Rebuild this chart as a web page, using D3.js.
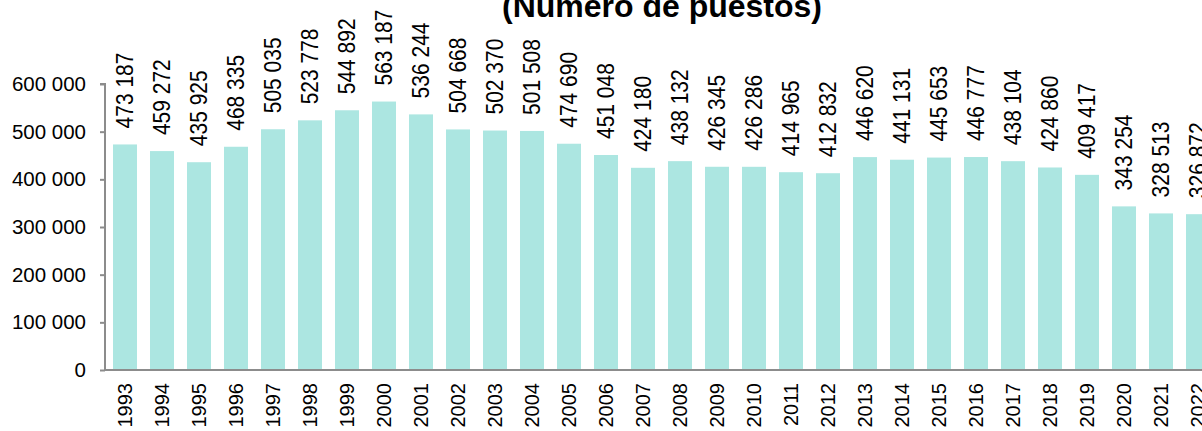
<!DOCTYPE html>
<html>
<head>
<meta charset="utf-8">
<script src="https://cdn.jsdelivr.net/npm/d3@7"></script>
<style>
  body { margin: 0; background: #fff; }
  svg { display: block; font-family: "Liberation Sans", Arial, sans-serif; }
</style>
</head>
<body>
<div class="chart"></div>
<script>
const years = ["1993","1994","1995","1996","1997","1998","1999","2000","2001","2002",
  "2003","2004","2005","2006","2007","2008","2009","2010","2011","2012",
  "2013","2014","2015","2016","2017","2018","2019","2020","2021","2022"];
const puestos = [473187, 459272, 435925, 468335, 505035, 523778, 544892, 563187, 536244, 504668,
  502370, 501508, 474690, 451048, 424180, 438132, 426345, 426286, 414965, 412832,
  446620, 441131, 445653, 446777, 438104, 424860, 409417, 343254, 328513, 326872];
const yTicks = [0, 100000, 200000, 300000, 400000, 500000, 600000];
const title = "(Número de puestos)";

const width = 1202, height = 431;
const axisX = 105, baseY = 370, topY = 84;

const svg = d3.select(".chart")
    .append("svg")
    .attr("width", width)
    .attr("height", height);

const fmt = d3.formatLocale({ decimal: ",", thousands: " ", grouping: [3] }).format(",d");

const x = d3.scaleBand()
    .domain(years)
    .range([axisX, 1218])
    .paddingInner(13 / 37)
    .paddingOuter(8 / 37);

const y = d3.scaleLinear()
    .domain([0, 600000])
    .range([baseY, topY]);

// title (partly cut off at the top)
svg.append("text")
    .attr("x", 662)
    .attr("y", 17)
    .attr("text-anchor", "middle")
    .style("font-size", "32px")
    .style("font-weight", "bold")
    .text(title);

// bars
svg.selectAll(".bar")
    .data(puestos)
    .join("rect")
    .attr("class", "bar")
    .attr("x", (d, i) => x(years[i]))
    .attr("y", d => y(d))
    .attr("width", x.bandwidth())
    .attr("height", d => y(0) - y(d))
    .attr("fill", "#ace6e1");

// value labels
svg.selectAll(".val")
    .data(puestos)
    .join("text")
    .attr("class", "val")
    .attr("transform", (d, i) => `translate(${x(years[i]) + x.bandwidth() / 2},${y(d) - 16}) rotate(-90) scale(1,1.1)`)
    .attr("dy", "0.35em")
    .attr("text-anchor", "start")
    .style("font-size", "21px")
    .attr("fill", "#000")
    .text(d => fmt(d));

// y axis
const yAxis = svg.append("g")
    .attr("transform", `translate(${axisX},0)`)
    .call(d3.axisLeft(y).tickValues(yTicks).tickFormat(fmt).tickSize(5).tickPadding(14));
yAxis.select(".domain").attr("stroke", "#8c8c8c").attr("stroke-width", 2)
    .attr("d", `M-5,${topY}H0V${baseY}`);
yAxis.selectAll(".tick line").attr("stroke", "#8c8c8c").attr("stroke-width", 2);
yAxis.selectAll(".tick text").style("font-size", "20.5px").attr("fill", "#000")
    .style("font-family", "'Liberation Sans', Arial, sans-serif");

// x axis baseline
const xAxis = svg.append("g")
    .attr("transform", `translate(0,${baseY})`)
    .call(d3.axisBottom(x).tickSize(0).tickPadding(0));
xAxis.select(".domain").attr("stroke", "#8c8c8c").attr("stroke-width", 2)
    .attr("d", `M${axisX - 1},0H${width}`);
xAxis.selectAll(".tick text")
    .attr("transform", "translate(0,13) rotate(-90)")
    .attr("x", 0).attr("y", 0).attr("dy", "0.35em")
    .attr("text-anchor", "end")
    .attr("fill", "#000")
    .style("font-size", "20px")
    .style("font-family", "'Liberation Sans', Arial, sans-serif");
</script>
</body>
</html>
